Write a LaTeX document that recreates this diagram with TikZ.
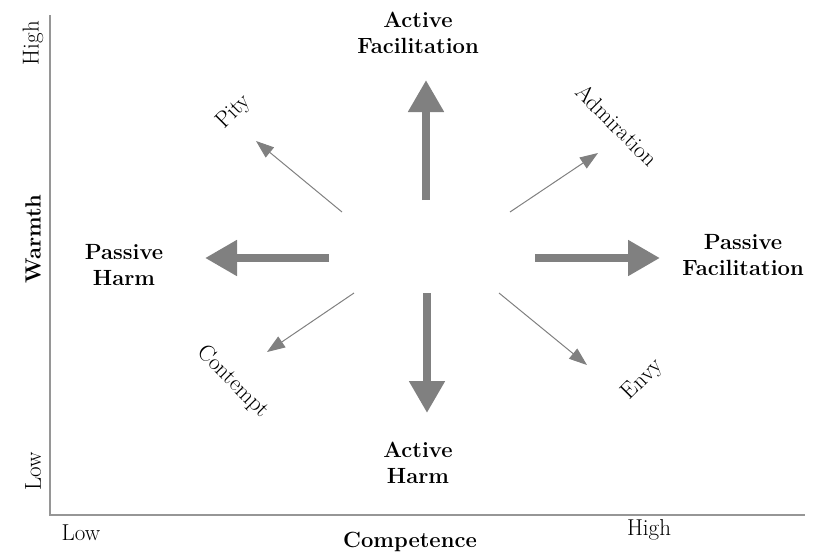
\documentclass[tikz,border=0pt]{standalone}
\usetikzlibrary{arrows.meta}
\definecolor{arrowgray}{RGB}{128,128,128}
\definecolor{axisgray}{RGB}{150,150,150}
\begin{document}
\begin{tikzpicture}[x=1pt,y=-1pt,
    big/.style={line width=8pt, draw=arrowgray, -{Triangle[width=34pt,length=32pt]}},
    slim/.style={line width=1pt, draw=arrowgray, -{Triangle[width=13pt,length=18pt]}},
    lab/.style={font=\fontsize{22}{26}\selectfont\bfseries, align=center, inner sep=0pt},
    emo/.style={font=\fontsize{23}{27}\selectfont, inner sep=0pt}]
    \useasboundingbox (0,0) rectangle (830,555);

    % axes
    \draw[axisgray, line width=1.5pt] (50,15) -- (50,515) -- (805,515);
    \node[emo, rotate=90] (warmhi) at (33,43) {High};
    \node[lab, rotate=90] (warmth) at (33,239) {Warmth};
    \node[emo, rotate=90] (warmlo) at (33,471) {Low};
    \node[emo] (complo) at (81,533) {Low};
    \node[lab] (comp) at (410,542) {Competence};
    \node[emo] (comphi) at (649,530) {High};

    % behaviours
    \node[lab] (actfac) at (418,33) {Active\\Facilitation};
    \node[lab] (pasfac) at (743,255) {Passive\\Facilitation};
    \node[lab] (pasharm) at (124,265) {Passive\\Harm};
    \node[lab] (actharm) at (418,463) {Active\\Harm};

    % emotions
    \node[emo, rotate=45] (pity) at (234,112) {Pity};
    \node[emo, rotate=-45] (admir) at (617,125) {Admiration};
    \node[emo, rotate=-45] (contempt) at (233,382) {Contempt};
    \node[emo, rotate=45] (envy) at (643,380) {Envy};

    \coordinate (af0) at (426,200); \coordinate (af1) at (426,80);
    \coordinate (pf0) at (535,258); \coordinate (pf1) at (660,258);
    \coordinate (ph0) at (329,258); \coordinate (ph1) at (205,258);
    \coordinate (ah0) at (427,293); \coordinate (ah1) at (427,413);
    \draw[big] (af0) -- (af1);
    \draw[big] (pf0) -- (pf1);
    \draw[big] (ph0) -- (ph1);
    \draw[big] (ah0) -- (ah1);

    \coordinate (pi0) at (342,212); \coordinate (pi1) at (256,141);
    \coordinate (ad0) at (510,212); \coordinate (ad1) at (598,153);
    \coordinate (co0) at (354,293); \coordinate (co1) at (267,352);
    \coordinate (en0) at (499,293); \coordinate (en1) at (587,365);
    \draw[slim] (pi0) -- (pi1);
    \draw[slim] (ad0) -- (ad1);
    \draw[slim] (co0) -- (co1);
    \draw[slim] (en0) -- (en1);
\end{tikzpicture}
\end{document}
